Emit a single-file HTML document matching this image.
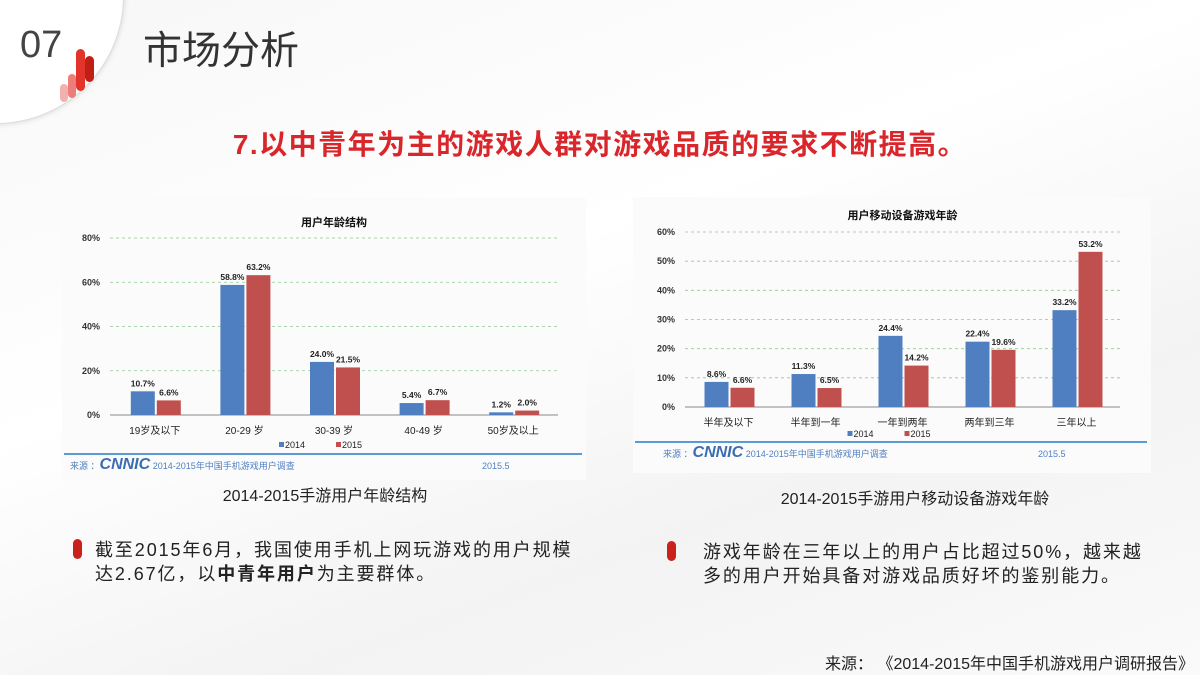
<!DOCTYPE html>
<html><head><meta charset="utf-8">
<style>
body{margin:0;width:1200px;height:675px;overflow:hidden;font-family:"Liberation Sans","Noto Sans CJK SC",sans-serif;}
#page{position:relative;width:1200px;height:675px;background:linear-gradient(160deg,#f7f7f7 0%,#ffffff 40%,#f3f3f3 70%,#fafafa 100%);overflow:hidden;}
.abs{position:absolute;}
.txt{font-size:18px;letter-spacing:1.9px;color:#222;line-height:24px;white-space:nowrap;}
.marker{position:absolute;width:9px;height:20px;border-radius:5px;background:#c9221d;}
</style></head>
<body>
<div id="page">
  <div class="abs" style="left:-132px;top:-132px;width:254px;height:254px;border-radius:50%;background:#fff;box-shadow:0 0 6px rgba(0,0,0,0.15);border:1px solid #ddd;"></div>
  <div class="abs" style="left:20px;top:24px;font-size:38px;color:#444;">07</div>
  <svg class="abs" style="left:56px;top:44px" width="46" height="58">
    <rect x="4" y="40" width="8" height="18" rx="4" fill="#f4b0ad"/>
    <rect x="12" y="30" width="8" height="24" rx="4" fill="#ec7d78"/>
    <rect x="20" y="5" width="9" height="42" rx="4.5" fill="#e3342c"/>
    <rect x="29" y="12" width="9" height="26" rx="4.5" fill="#c01f16"/>
  </svg>
  <div class="abs" style="left:143px;top:20px;font-size:39px;color:#333;">市场分析</div>
  <div class="abs" style="left:0;width:1200px;top:123px;text-align:center;font-size:28px;letter-spacing:1.5px;font-weight:bold;color:#d9262b;">7.以中青年为主的游戏人群对游戏品质的要求不断提高。</div>

  <svg class="abs" id="chart1" style="left:62px;top:198px;background:#fbfbfb" width="524" height="282"></svg>
  <svg class="abs" id="chart2" style="left:633px;top:197px;background:#fbfbfb" width="518" height="276"></svg>

  <div class="abs" style="left:110px;width:430px;top:482px;text-align:center;font-size:16px;color:#222;">2014-2015手游用户年龄结构</div>
  <div class="abs" style="left:700px;width:430px;top:485px;text-align:center;font-size:16px;color:#222;">2014-2015手游用户移动设备游戏年龄</div>

  <div class="marker" style="left:73px;top:539px"></div>
  <div class="abs txt" style="left:95px;top:538px;">截至2015年6月，我国使用手机上网玩游戏的用户规模<br>达2.67亿，以<b>中青年用户</b>为主要群体。</div>
  <div class="marker" style="left:667px;top:541px"></div>
  <div class="abs txt" style="left:703px;top:540px;">游戏年龄在三年以上的用户占比超过50%，越来越<br>多的用户开始具备对游戏品质好坏的鉴别能力。</div>

  <div class="abs" style="right:6px;top:650px;font-size:16px;color:#222;">来源：&nbsp;《2014-2015年中国手机游戏用户调研报告》</div>
</div>
<script>
const cats1 = ["19岁及以下","20-29 岁","30-39 岁","40-49 岁","50岁及以上"];
const s2014a = [10.7,58.8,24.0,5.4,1.2];
const s2015a = [6.6,63.2,21.5,6.7,2.0];
const ticks1 = [0,20,40,60,80];
const cats2 = ["半年及以下","半年到一年","一年到两年","两年到三年","三年以上"];
const s2014b = [8.6,11.3,24.4,22.4,33.2];
const s2015b = [6.6,6.5,14.2,19.6,53.2];
const ticks2 = [0,10,20,30,40,50,60];

const NS="http://www.w3.org/2000/svg";
function mk(svg,tag,attrs,text){const e=document.createElementNS(NS,tag);for(const k in attrs)e.setAttribute(k,attrs[k]);if(text!==undefined)e.textContent=text;svg.appendChild(e);return e;}

function draw(id,cfg){
  const svg=document.getElementById(id);
  const y=v=>cfg.y0-(v/cfg.max)*(cfg.y0-cfg.yTop);
  const cw=(cfg.x1-cfg.x0)/cfg.cats.length;
  let t=mk(svg,'text',{x:(cfg.x0+cfg.x1)/2,y:cfg.titleY,'text-anchor':'middle','font-size':11,'font-weight':'bold',fill:'#111'},cfg.title);
  
  
  cfg.ticks.forEach(v=>{
    if(v>0){const g=mk(svg,'line',{x1:cfg.x0,x2:cfg.x1,y1:y(v),y2:y(v),stroke:'#8fc98f','stroke-dasharray':'3,3','stroke-width':0.8});
      
      }
    const l=mk(svg,'text',{x:cfg.x0-10,y:y(v)+3,'text-anchor':'end','font-size':9,'font-weight':'bold',fill:'#333'},v+'%');
    
    
  });
  const ax=mk(svg,'line',{x1:cfg.x0,x2:cfg.x1,y1:cfg.y0,y2:cfg.y0,stroke:'#888','stroke-width':1});
  
  
  cfg.cats.forEach((c,i)=>{
    const cx=cfg.x0+cw*(i+0.5);
    [[cfg.a,'#4f7fc1',cx-24],[cfg.b,'#c0504d',cx+2]].forEach(([arr,col,bx],k)=>{
      const v=arr[i];
      const r=mk(svg,'rect',{x:bx,y:y(v),width:24,height:cfg.y0-y(v),fill:col});
      
      
      const vl=mk(svg,'text',{x:bx+12,y:y(v)-5,'text-anchor':'middle','font-size':8.5,'font-weight':'bold',fill:'#222'},v.toFixed(1)+'%');
      
      
    });
    const cl=mk(svg,'text',{x:cx,y:cfg.y0+19,'text-anchor':'middle','font-size':10,fill:'#222'},c);
    
    
  });
  const mid=(cfg.x0+cfg.x1)/2;
  mk(svg,'rect',{x:mid-55,y:cfg.legY-6,width:5,height:5,fill:'#4f7fc1'});
  let lg=mk(svg,'text',{x:mid-49,y:cfg.legY,'font-size':9,fill:'#222'},'2014');
  
  
  mk(svg,'rect',{x:mid+2,y:cfg.legY-6,width:5,height:5,fill:'#c0504d'});
  lg=mk(svg,'text',{x:mid+8,y:cfg.legY,'font-size':9,fill:'#222'},'2015');
  
  
  const bl=mk(svg,'line',{x1:2,x2:svg.getAttribute('width')-4,y1:cfg.lineY,y2:cfg.lineY,stroke:'#5b9bd5','stroke-width':2});
  
  
  const s=mk(svg,'text',{x:cfg.srcX,y:cfg.lineY+15,'font-size':9,fill:'#4f7fc1'});
  
  
  s.innerHTML='来源 ：<tspan font-size="16" font-weight="bold" font-style="italic" fill="#3b6db3">CNNIC</tspan> 2014-2015年中国手机游戏用户调查';
  mk(svg,'text',{x:cfg.dateX,y:cfg.lineY+15,'font-size':9,fill:'#4f7fc1'},'2015.5');
}
draw('chart1',{cats:cats1,a:s2014a,b:s2015a,ticks:ticks1,max:80,x0:48,x1:496,y0:217,yTop:40,title:'用户年龄结构',titleY:28,legY:250,lineY:256,srcX:8,dateX:420});
draw('chart2',{cats:cats2,a:s2014b,b:s2015b,ticks:ticks2,max:60,x0:52,x1:487,y0:210,yTop:35,title:'用户移动设备游戏年龄',titleY:22,legY:240,lineY:245,srcX:30,dateX:405});
</script>
</body></html>
